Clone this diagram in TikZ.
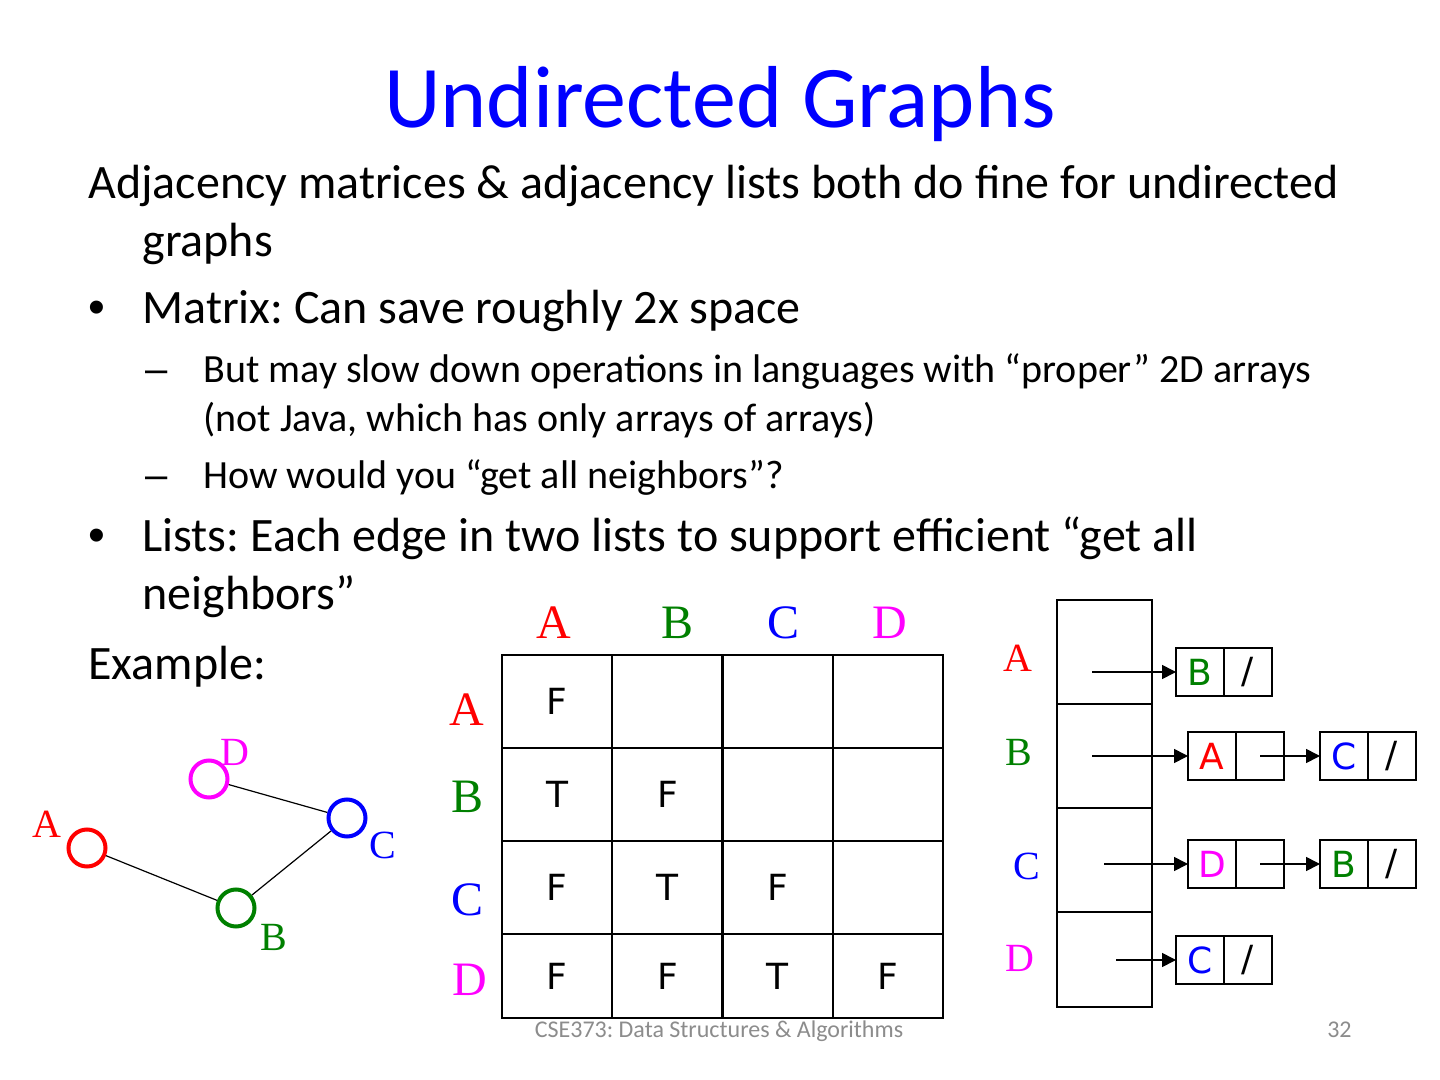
\documentclass[tikz,border=0pt]{standalone}
\usepackage{fontspec}
\setmainfont{Carlito}
\newfontfamily\labelfont{Liberation Serif}
\newfontfamily\cellfont{DejaVu Sans}
\newfontfamily\markfont{Liberation Sans}
\usetikzlibrary{arrows.meta, positioning}
\definecolor{titleblue}{rgb}{0.0, 0.0, 1.0}
\definecolor{vertexred}{rgb}{1.0, 0.0, 0.0}
\definecolor{vertexgreen}{rgb}{0.0, 0.5, 0.0}
\definecolor{vertexblue}{rgb}{0.0, 0.0, 1.0}
\definecolor{vertexpink}{rgb}{1.0, 0.0, 1.0}
\definecolor{footergray}{rgb}{0.55, 0.55, 0.55}
\frenchspacing

\begin{document}
\begin{tikzpicture}[x=0.5pt, y=-0.5pt,
			body/.style={anchor=base west, inner sep=0pt, font=\fontsize{24}{28}\selectfont},
			subbody/.style={anchor=base west, inner sep=0pt, font=\fontsize{20}{24}\selectfont},
			vertex/.style={circle, draw, line width=2pt, minimum size=18.5pt, inner sep=0pt},
			vlabel/.style={inner sep=0pt, font=\labelfont\fontsize{20}{24}\selectfont},
			mlabel/.style={inner sep=0pt, font=\labelfont\fontsize{24}{28}\selectfont},
			matcell/.style={draw, line width=1pt, inner sep=0pt, outer sep=0pt, minimum width=55.125pt, minimum height=46.5pt, font=\cellfont\fontsize{18}{22}\selectfont},
			slot/.style={draw, line width=1pt, inner sep=0pt, outer sep=0pt, minimum width=47.5pt, minimum height=52pt},
			listcell/.style={draw, line width=1pt, inner sep=0pt, outer sep=0pt, minimum size=24pt, font=\cellfont\fontsize{18}{22}\selectfont},
			pointer/.style={-{Triangle[length=7pt, width=7pt]}, line width=0.8pt},
			link/.style={line width=0.6pt}
		]
		\fill[white] (0,0) rectangle (1440,1080);
		\useasboundingbox (0,0) rectangle (1440,1080);

		\node[anchor=base, inner sep=0pt, text=titleblue, font=\fontsize{44}{52}\selectfont] (title) at (720,128) {Undirected Graphs};

		\node[body] (intro) at (88,199) {Adjacency matrices \& adjacency lists both do fine for undirected};
		\node[body] (intro2) at (142,257) {graphs};
		\node[body, font=\markfont\fontsize{24}{28}\selectfont] (dot1) at (88,324) {•};
		\node[body] (matrix) at (142,324) {Matrix: Can save roughly 2x space};
		\node[subbody, font=\markfont\fontsize{20}{24}\selectfont] (dash1) at (145,383) {–};
		\node[subbody] (slow) at (203,383) {But may slow down operations in languages with “proper” 2D arrays};
		\node[subbody] (slow2) at (203,431) {(not Java, which has only arrays of arrays)};
		\node[subbody, font=\markfont\fontsize{20}{24}\selectfont] (dash2) at (145,488) {–};
		\node[subbody] (nbrs) at (203,488) {How would you “get all neighbors”?};
		\node[body, font=\markfont\fontsize{24}{28}\selectfont] (dot2) at (88,551) {•};
		\node[body] (lists) at (142,551) {Lists: Each edge in two lists to support efficient “get all};
		\node[body] (lists2) at (142,609) {neighbors”};
		\node[body] (example) at (88,679) {Example:};

		% graph
		\node[vertex, draw=vertexred] (vA) at (87,848) {};
		\node[vertex, draw=vertexgreen] (vB) at (236,908) {};
		\node[vertex, draw=vertexblue] (vC) at (347,818) {};
		\node[vertex, draw=vertexpink] (vD) at (209,779) {};
		\node[vlabel, text=vertexred] (lA) at (47,824) {A};
		\node[vlabel, text=vertexgreen] (lB) at (274,937) {B};
		\node[vlabel, text=vertexblue] (lC) at (383,845) {C};
		\node[vlabel, text=vertexpink] (lD) at (235,752) {D};
		\draw[link] (vD) -- (vC);
		\draw[link] (vC) -- (vB);
		\draw[link] (vA) -- (vB);

		% adjacency matrix
		\node[mlabel, text=vertexred] (colA) at (554,623) {A};
		\node[mlabel, text=vertexgreen] (colB) at (677,623) {B};
		\node[mlabel, text=vertexblue] (colC) at (783,623) {C};
		\node[mlabel, text=vertexpink] (colD) at (890,623) {D};
		\node[mlabel, text=vertexred] (rowA) at (467,710) {A};
		\node[mlabel, text=vertexgreen] (rowB) at (468,797) {B};
		\node[mlabel, text=vertexblue] (rowC) at (468,900) {C};
		\node[mlabel, text=vertexpink] (rowD) at (470,980) {D};

		\node[matcell] (mAA) at (557.1,701.5) {F};
		\node[matcell] (mAB) at (667.4,701.5) {};
		\node[matcell] (mAC) at (777.6,701.5) {};
		\node[matcell] (mAD) at (887.9,701.5) {};
		\node[matcell] (mBA) at (557.1,794.5) {T};
		\node[matcell] (mBB) at (667.4,794.5) {F};
		\node[matcell] (mBC) at (777.6,794.5) {};
		\node[matcell] (mBD) at (887.9,794.5) {};
		\node[matcell] (mCA) at (557.1,887.5) {F};
		\node[matcell] (mCB) at (667.4,887.5) {T};
		\node[matcell] (mCC) at (777.6,887.5) {F};
		\node[matcell] (mCD) at (887.9,887.5) {};
		\node[matcell, minimum height=42pt] (mDA) at (557.1,976) {F};
		\node[matcell, minimum height=42pt] (mDB) at (667.4,976) {F};
		\node[matcell, minimum height=42pt] (mDC) at (777.6,976) {T};
		\node[matcell, minimum height=42pt] (mDD) at (887.9,976) {F};

		% adjacency lists
		\node[vlabel, text=vertexred] (keyA) at (1018,658) {A};
		\node[vlabel, text=vertexgreen] (keyB) at (1019,752) {B};
		\node[vlabel, text=vertexblue] (keyC) at (1027,866) {C};
		\node[vlabel, text=vertexpink] (keyD) at (1020,958) {D};
		\node[slot] (sA) at (1104.5,652) {};
		\node[slot] (sB) at (1104.5,756) {};
		\node[slot] (sC) at (1104.5,860) {};
		\node[slot, minimum height=47.5pt] (sD) at (1104.5,959.5) {};
		\coordinate (pA) at (1092,672);
		\coordinate (pB) at (1092,756);
		\coordinate (pC) at (1104,864);
		\coordinate (pD) at (1116,960);

		\node[listcell, text=vertexgreen] (aB) at (1200,672) {B};
		\node[listcell, right=0pt of aB] (aBn) {/};
		\node[listcell, text=vertexred] (bA) at (1212,756) {A};
		\node[listcell, right=0pt of bA] (bAn) {};
		\node[listcell, text=vertexblue] (bC) at (1344,756) {C};
		\node[listcell, right=0pt of bC] (bCn) {/};
		\node[listcell, text=vertexpink] (cD) at (1212,864) {D};
		\node[listcell, right=0pt of cD] (cDn) {};
		\node[listcell, text=vertexgreen] (cB) at (1344,864) {B};
		\node[listcell, right=0pt of cB] (cBn) {/};
		\node[listcell, text=vertexblue] (dC) at (1200,960) {C};
		\node[listcell, right=0pt of dC] (dCn) {/};

		\draw[pointer] (pA) -- (aB);
		\draw[pointer] (pB) -- (bA);
		\draw[pointer] (bAn.center) -- (bC);
		\draw[pointer] (pC) -- (cD);
		\draw[pointer] (cDn.center) -- (cB);
		\draw[pointer] (pD) -- (dC);

		\node[anchor=base, inner sep=0pt, text=footergray, font=\fontsize{12}{14}\selectfont] (footer) at (719,1037) {CSE373: Data Structures \& Algorithms};
		\node[anchor=base east, inner sep=0pt, text=footergray, font=\fontsize{12}{14}\selectfont] (page) at (1352,1037) {32};
	\end{tikzpicture}
\end{document}
